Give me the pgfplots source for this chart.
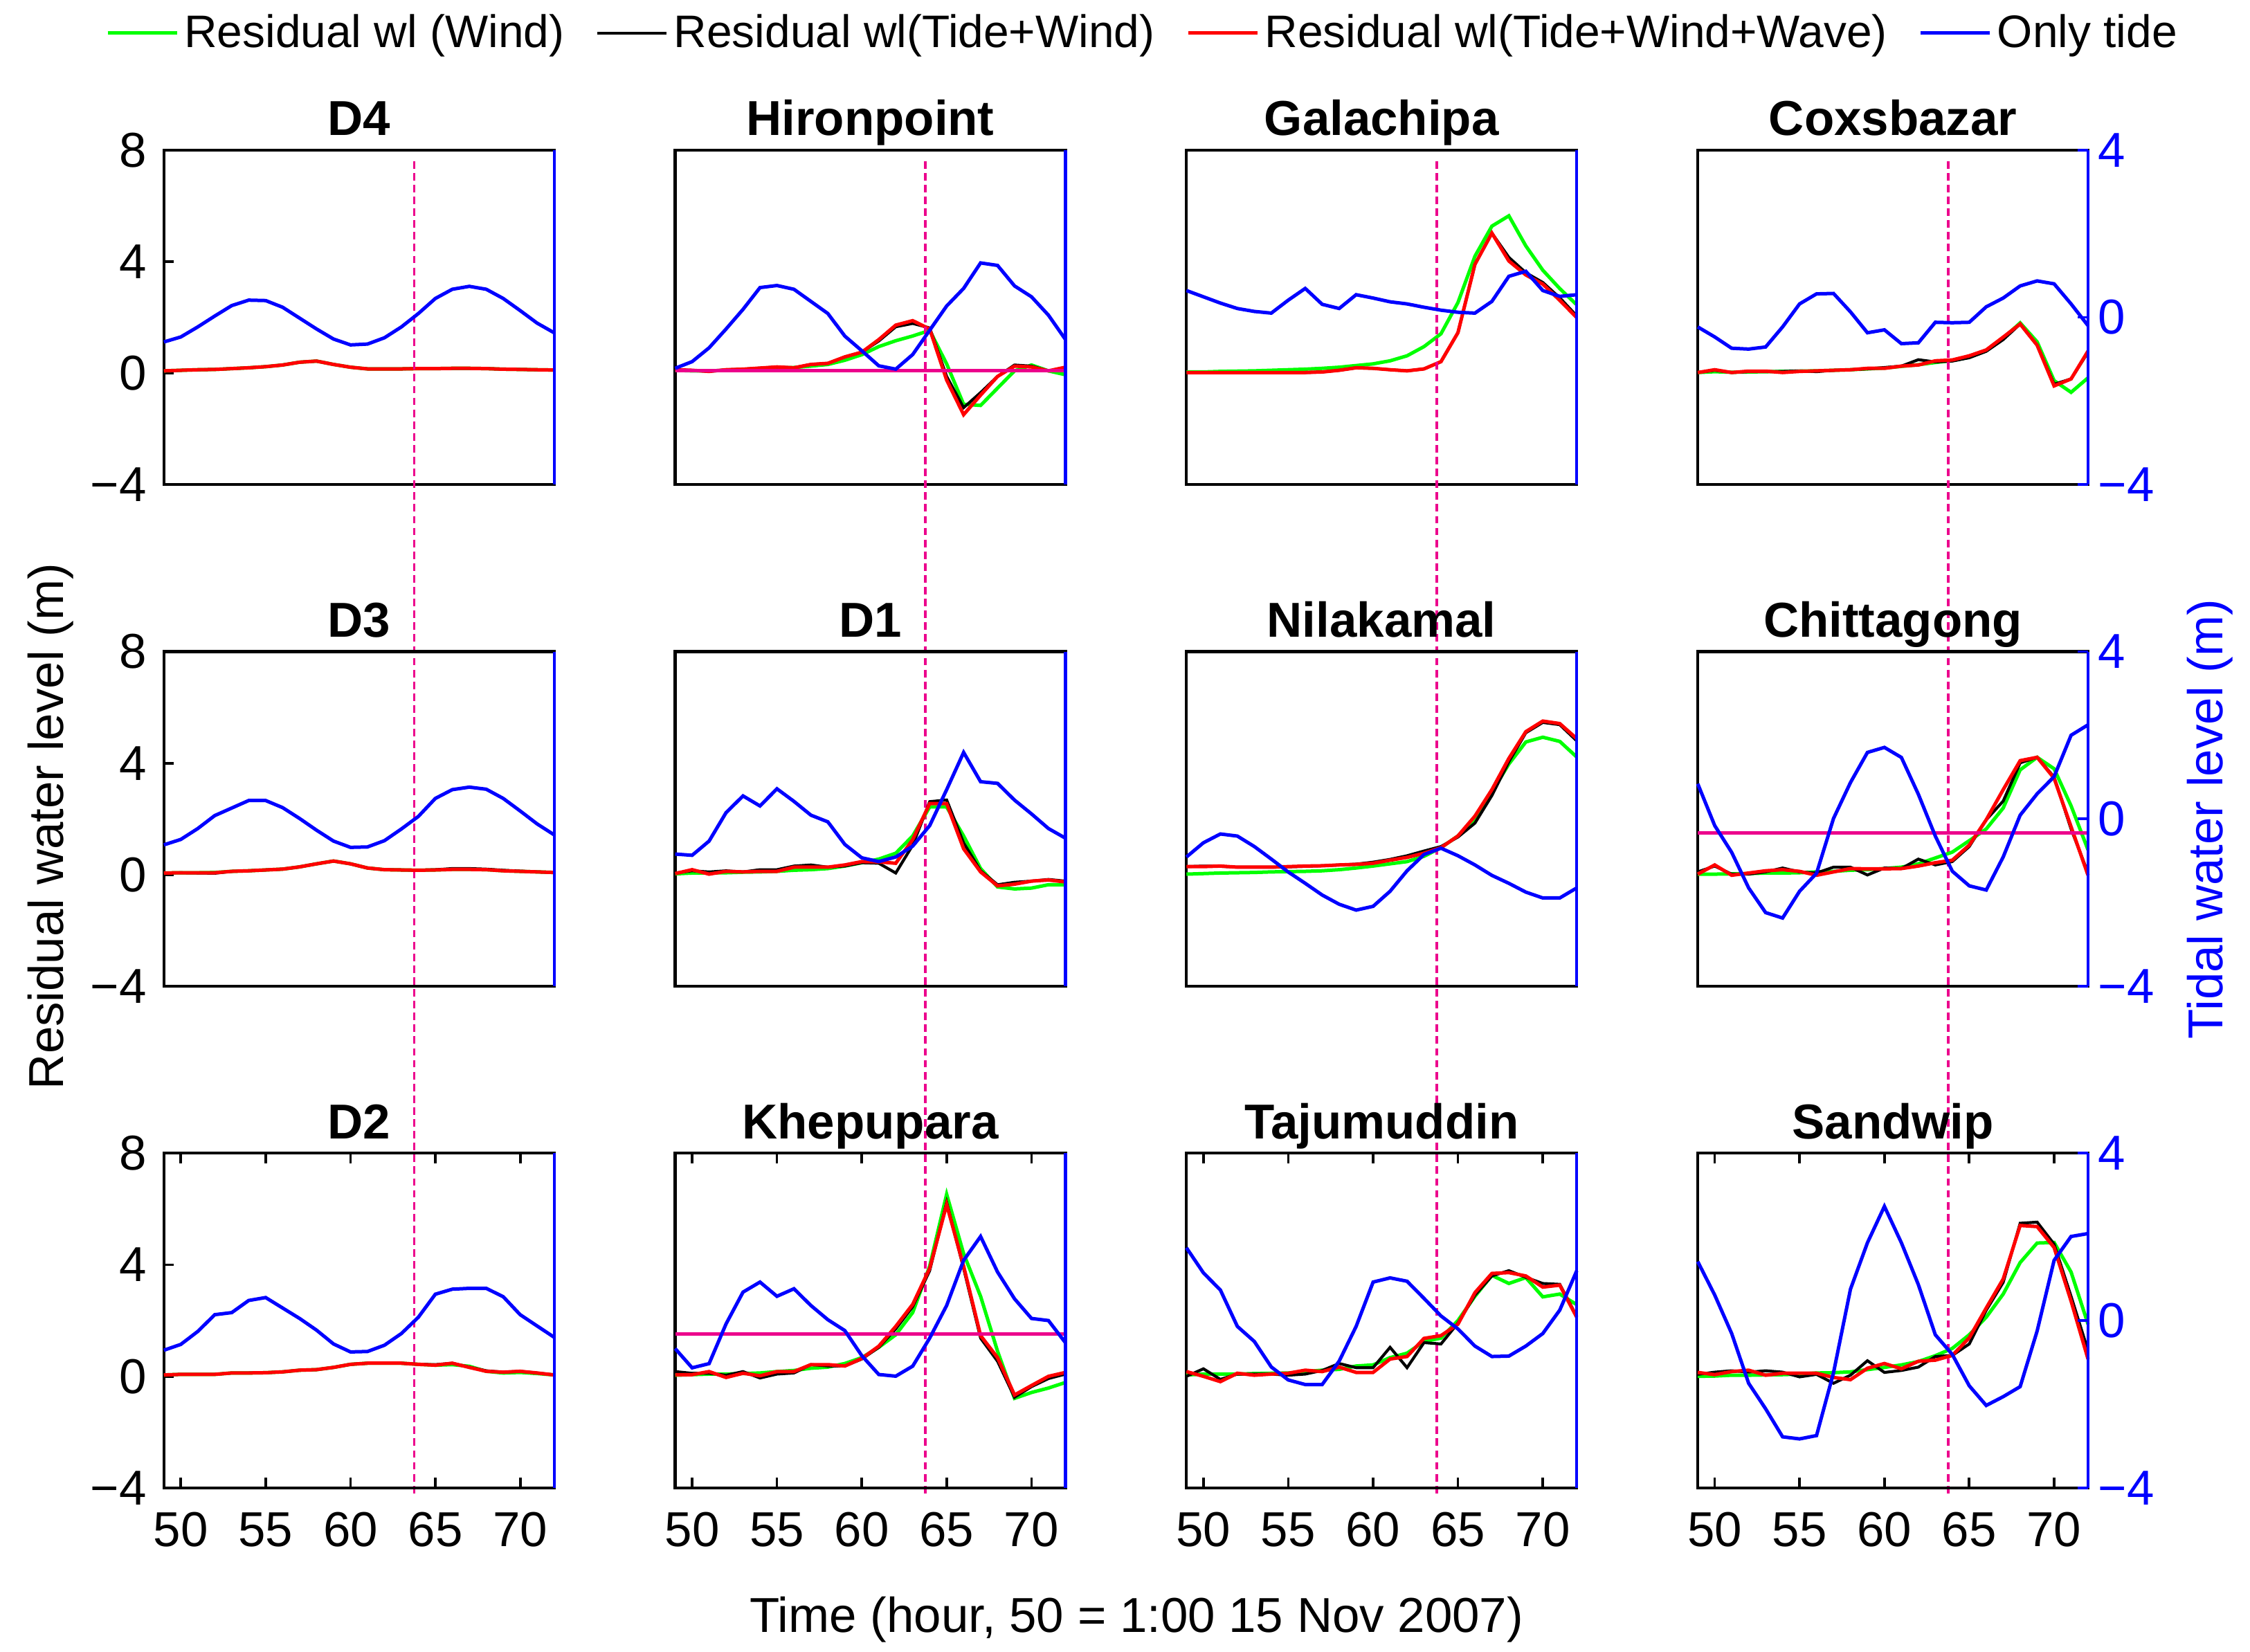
\documentclass[border=0pt]{standalone}
\usepackage{fontspec}
\setmainfont{Liberation Sans}
\usepackage{pgfplots}
\usepackage{pgfplotstable}
\pgfplotsset{compat=1.18}

\newcommand{\figfont}{\fontsize{17}{20}\selectfont}

% one table per station: hour, wind, tide+wind, tide+wind+wave, tide only
\pgfplotstableread{
h wind tw tww tide
49 0.08 0.08 0.08 -0.59
50 0.10 0.10 0.10 -0.47
51 0.12 0.12 0.12 -0.23
52 0.13 0.13 0.13 0.03
53 0.16 0.16 0.16 0.28
54 0.19 0.19 0.19 0.41
55 0.23 0.23 0.23 0.40
56 0.29 0.29 0.29 0.24
57 0.39 0.39 0.39 -0.02
58 0.43 0.43 0.43 -0.28
59 0.31 0.31 0.31 -0.52
60 0.21 0.21 0.21 -0.66
61 0.15 0.15 0.15 -0.64
62 0.15 0.15 0.15 -0.49
63 0.15 0.15 0.15 -0.23
64 0.16 0.16 0.16 0.09
65 0.16 0.16 0.16 0.45
66 0.17 0.17 0.17 0.67
67 0.17 0.17 0.17 0.74
68 0.16 0.16 0.16 0.67
69 0.14 0.14 0.14 0.45
70 0.13 0.13 0.13 0.16
71 0.12 0.12 0.12 -0.14
72 0.11 0.11 0.11 -0.37
}\dfour

\pgfplotstableread{
h wind tw tww tide
49 0.10 0.12 0.12 -1.22
50 0.08 0.10 0.10 -1.06
51 0.08 0.06 0.06 -0.73
52 0.10 0.12 0.12 -0.28
53 0.12 0.14 0.14 0.19
54 0.15 0.18 0.18 0.71
55 0.18 0.22 0.22 0.76
56 0.20 0.19 0.19 0.67
57 0.25 0.31 0.31 0.38
58 0.31 0.35 0.35 0.09
59 0.46 0.58 0.58 -0.45
60 0.66 0.75 0.75 -0.80
61 0.95 1.15 1.20 -1.16
62 1.16 1.66 1.72 -1.24
63 1.33 1.78 1.88 -0.89
64 1.53 1.62 1.58 -0.31
65 0.33 -0.12 -0.25 0.27
66 -1.12 -1.24 -1.49 0.69
67 -1.16 -0.70 -0.79 1.30
68 -0.54 -0.12 -0.12 1.24
69 0.08 0.29 0.25 0.75
70 0.29 0.25 0.22 0.49
71 0.08 0.08 0.08 0.05
72 -0.06 0.16 0.21 -0.53
}\hiron

\pgfplotstableread{
h wind tw tww tide
49 0.04 0.02 0.02 0.64
50 0.04 0.02 0.02 0.49
51 0.06 0.02 0.02 0.34
52 0.07 0.02 0.02 0.21
53 0.08 0.02 0.02 0.14
54 0.10 0.02 0.02 0.10
55 0.12 0.02 0.02 0.41
56 0.14 0.02 0.02 0.69
57 0.17 0.04 0.04 0.31
58 0.21 0.10 0.10 0.21
59 0.27 0.19 0.19 0.54
60 0.33 0.17 0.17 0.46
61 0.44 0.12 0.12 0.37
62 0.62 0.08 0.08 0.32
63 0.95 0.15 0.15 0.24
64 1.41 0.41 0.41 0.17
65 2.53 1.45 1.45 0.12
66 4.19 3.90 3.90 0.10
67 5.27 5.02 5.02 0.38
68 5.64 4.15 4.02 0.98
69 4.56 3.60 3.52 1.10
70 3.69 3.25 3.19 0.64
71 3.03 2.70 2.61 0.50
72 2.45 2.05 1.99 0.54
}\galac

\pgfplotstableread{
h wind tw tww tide
49 0.02 0.02 0.02 -0.23
50 0.05 0.10 0.12 -0.47
51 0.03 0.02 0.02 -0.74
52 0.04 0.05 0.07 -0.76
53 0.05 0.05 0.07 -0.71
54 0.06 0.06 0.02 -0.23
55 0.07 0.08 0.06 0.32
56 0.08 0.05 0.08 0.56
57 0.10 0.10 0.10 0.57
58 0.12 0.12 0.12 0.13
59 0.15 0.15 0.17 -0.37
60 0.18 0.20 0.17 -0.30
61 0.24 0.25 0.25 -0.63
62 0.30 0.48 0.29 -0.61
63 0.38 0.40 0.44 -0.12
64 0.45 0.43 0.47 -0.13
65 0.57 0.55 0.62 -0.12
66 0.80 0.78 0.83 0.25
67 1.25 1.20 1.29 0.46
68 1.80 1.76 1.76 0.75
69 1.12 1.00 1.00 0.87
70 -0.27 -0.40 -0.46 0.80
71 -0.69 -0.21 -0.21 0.32
72 -0.17 0.75 0.79 -0.20
}\coxs

\pgfplotstableread{
h wind tw tww tide
49 0.06 0.06 0.06 -0.62
50 0.07 0.07 0.07 -0.49
51 0.07 0.06 0.07 -0.23
52 0.08 0.05 0.07 0.08
53 0.12 0.12 0.12 0.26
54 0.14 0.14 0.14 0.44
55 0.17 0.17 0.17 0.44
56 0.20 0.20 0.20 0.27
57 0.28 0.28 0.28 0.01
58 0.39 0.39 0.39 -0.27
59 0.49 0.49 0.49 -0.53
60 0.39 0.39 0.39 -0.68
61 0.24 0.24 0.24 -0.67
62 0.18 0.18 0.18 -0.52
63 0.17 0.17 0.17 -0.24
64 0.16 0.16 0.16 0.06
65 0.17 0.18 0.17 0.49
66 0.19 0.22 0.19 0.70
67 0.19 0.22 0.19 0.76
68 0.18 0.20 0.18 0.71
69 0.14 0.16 0.14 0.49
70 0.12 0.13 0.12 0.19
71 0.10 0.10 0.10 -0.12
72 0.08 0.08 0.08 -0.38
}\dthree

\pgfplotstableread{
h wind tw tww tide
49 0.03 0.06 0.04 -0.84
50 0.06 0.14 0.18 -0.87
51 0.06 0.10 0.02 -0.53
52 0.07 0.14 0.12 0.15
53 0.09 0.10 0.10 0.55
54 0.10 0.18 0.12 0.31
55 0.12 0.18 0.12 0.72
56 0.16 0.31 0.27 0.42
57 0.18 0.35 0.27 0.09
58 0.22 0.27 0.27 -0.07
59 0.31 0.31 0.35 -0.61
60 0.43 0.43 0.47 -0.93
61 0.56 0.41 0.46 -1.02
62 0.77 0.06 0.41 -0.91
63 1.39 1.06 1.26 -0.65
64 2.43 2.62 2.55 -0.16
65 2.43 2.68 2.55 0.70
66 1.39 1.14 0.93 1.59
67 0.22 0.14 0.10 0.89
68 -0.44 -0.36 -0.40 0.85
69 -0.51 -0.27 -0.34 0.45
70 -0.48 -0.23 -0.23 0.12
71 -0.36 -0.17 -0.19 -0.23
72 -0.36 -0.23 -0.26 -0.46
}\done

\pgfplotstableread{
h wind tw tww tide
49 0.02 0.29 0.29 -0.91
50 0.04 0.31 0.29 -0.57
51 0.06 0.30 0.31 -0.36
52 0.07 0.27 0.27 -0.41
53 0.08 0.27 0.27 -0.66
54 0.10 0.27 0.27 -0.96
55 0.11 0.28 0.29 -1.27
56 0.12 0.30 0.31 -1.54
57 0.14 0.32 0.32 -1.82
58 0.18 0.35 0.35 -2.04
59 0.24 0.38 0.37 -2.18
60 0.31 0.45 0.41 -2.09
61 0.39 0.55 0.52 -1.73
62 0.47 0.68 0.62 -1.24
63 0.66 0.85 0.77 -0.85
64 0.97 1.01 0.97 -0.70
65 1.39 1.35 1.39 -0.88
66 1.97 1.85 2.10 -1.10
67 2.97 2.84 3.05 -1.35
68 3.97 4.05 4.17 -1.54
69 4.76 5.09 5.13 -1.75
70 4.93 5.46 5.51 -1.89
71 4.78 5.38 5.42 -1.89
72 4.22 4.80 4.88 -1.65
}\nila

\pgfplotstableread{
h wind tw tww tide
49 0.02 0.10 0.02 0.84
50 0.02 0.31 0.35 -0.16
51 0.03 0.02 -0.02 -0.80
52 0.04 0.02 0.06 -1.65
53 0.06 0.10 0.14 -2.24
54 0.06 0.24 0.18 -2.37
55 0.07 0.10 0.12 -1.73
56 0.10 0.06 -0.02 -1.30
57 0.12 0.27 0.10 0.01
58 0.16 0.27 0.22 0.87
59 0.18 -0.01 0.21 1.59
60 0.22 0.24 0.21 1.71
61 0.27 0.22 0.22 1.47
62 0.39 0.56 0.31 0.59
63 0.60 0.35 0.43 -0.41
64 0.81 0.47 0.52 -1.25
65 1.22 1.01 1.06 -1.60
66 1.64 1.97 1.97 -1.70
67 2.39 2.64 3.05 -0.91
68 3.76 4.01 4.09 0.09
69 4.21 4.21 4.21 0.60
70 3.80 3.50 3.46 1.01
71 2.47 1.64 1.72 2.00
72 0.89 0.06 -0.02 2.25
}\chitt

\pgfplotstableread{
h wind tw tww tide
49 0.05 0.05 0.05 -0.71
50 0.07 0.07 0.07 -0.57
51 0.07 0.07 0.07 -0.26
52 0.07 0.07 0.07 0.14
53 0.12 0.12 0.12 0.19
54 0.12 0.12 0.12 0.48
55 0.13 0.13 0.13 0.55
56 0.16 0.16 0.16 0.30
57 0.22 0.22 0.22 0.05
58 0.24 0.24 0.24 -0.23
59 0.32 0.32 0.32 -0.56
60 0.43 0.43 0.43 -0.75
61 0.47 0.47 0.47 -0.74
62 0.47 0.47 0.47 -0.59
63 0.47 0.47 0.47 -0.31
64 0.43 0.43 0.43 0.08
65 0.40 0.42 0.40 0.63
66 0.42 0.47 0.47 0.75
67 0.36 0.33 0.32 0.77
68 0.18 0.20 0.18 0.77
69 0.12 0.15 0.15 0.57
70 0.14 0.18 0.18 0.14
71 0.10 0.12 0.12 -0.13
72 0.05 0.05 0.05 -0.40
}\dtwo

\pgfplotstableread{
h wind tw tww tide
49 0.04 0.17 0.06 -0.67
50 0.06 0.11 0.06 -1.13
51 0.08 0.11 0.17 -1.03
52 0.08 0.04 -0.04 -0.08
53 0.10 0.17 0.11 0.68
54 0.12 -0.06 0.02 0.92
55 0.17 0.08 0.17 0.58
56 0.21 0.12 0.17 0.76
57 0.29 0.42 0.42 0.36
58 0.33 0.37 0.42 0.02
59 0.46 0.37 0.37 -0.24
60 0.67 0.62 0.64 -0.84
61 1.04 1.04 1.08 -1.29
62 1.49 1.70 1.79 -1.33
63 2.29 2.50 2.58 -1.09
64 3.95 3.79 3.87 -0.42
65 6.53 6.24 6.16 0.36
66 4.40 3.87 3.95 1.44
67 2.87 1.37 1.46 2.01
68 0.90 0.54 0.67 1.16
69 -0.79 -0.75 -0.67 0.52
70 -0.58 -0.37 -0.33 0.05
71 -0.42 -0.08 0.00 0.00
72 -0.22 0.08 0.14 -0.53
}\khep

\pgfplotstableread{
h wind tw tww tide
49 0.05 0.00 0.17 1.74
50 0.08 0.27 0.00 1.14
51 0.08 -0.11 -0.19 0.73
52 0.08 0.08 0.11 -0.14
53 0.10 0.08 0.04 -0.50
54 0.11 0.08 0.08 -1.11
55 0.12 0.04 0.11 -1.42
56 0.17 0.08 0.22 -1.53
57 0.22 0.21 0.17 -1.53
58 0.25 0.46 0.33 -0.97
59 0.37 0.31 0.14 -0.14
60 0.41 0.31 0.14 0.92
61 0.67 1.04 0.62 1.02
62 0.83 0.31 0.71 0.94
63 1.25 1.21 1.36 0.53
64 1.37 1.16 1.46 0.11
65 2.00 1.91 1.87 -0.20
66 2.87 2.91 3.00 -0.61
67 3.62 3.60 3.69 -0.86
68 3.33 3.79 3.72 -0.85
69 3.54 3.55 3.60 -0.61
70 2.85 3.33 3.20 -0.31
71 2.95 3.30 3.27 0.25
72 2.57 2.15 2.12 1.19
}\taju

\pgfplotstableread{
h wind tw tww tide
49 0.00 0.07 0.14 1.41
50 0.01 0.15 0.06 0.61
51 0.04 0.20 0.17 -0.31
52 0.04 0.15 0.22 -1.50
53 0.05 0.20 0.04 -2.11
54 0.06 0.15 0.11 -2.78
55 0.08 -0.02 0.11 -2.83
56 0.12 0.07 0.11 -2.75
57 0.13 -0.25 -0.04 -1.25
58 0.16 0.04 -0.12 0.75
59 0.24 0.56 0.29 1.86
60 0.32 0.14 0.46 2.73
61 0.41 0.21 0.27 1.86
62 0.53 0.33 0.54 0.86
63 0.74 0.71 0.58 -0.34
64 1.00 0.75 0.75 -0.81
65 1.49 1.16 1.38 -1.56
66 2.12 2.37 2.45 -2.03
67 2.95 3.37 3.49 -1.82
68 4.08 5.49 5.41 -1.58
69 4.78 5.53 5.37 -0.25
70 4.80 4.74 4.62 1.44
71 3.74 2.87 2.70 2.01
72 1.87 0.92 0.62 2.08
}\sand

\pgfplotsset{
  base/.style={scale only axis, width=135.3pt, height=116pt,
    xmin=49, xmax=72, anchor=north west, font=\figfont,
    major tick length=3.5pt, tick align=inside, clip=false,
    every tick/.style={black, line width=0.9pt},
    /pgf/number format/assume math mode=true},
  leftax/.style={base, ymin=-4, ymax=8, xtick=\empty, ytick=\empty,
    axis line style={black, line width=1pt},
    title style={font=\figfont\bfseries, at={(0.5,1)}, anchor=base, yshift=-1pt}},
  rightax/.style={base, ymin=-4, ymax=4, axis x line=none, axis y line*=right,
    y axis line style={blue, line width=1pt}, xtick=\empty, ytick=\empty},
  lcol/.style={ytick={-4,0,4,8}, yticklabels={−4,0,4,8}, ytick pos=left,
    yticklabel style={xshift=-2.5pt}},
  rcol/.style={ytick={-4,0,4}, yticklabels={−4,0,4},
    yticklabel style={text=blue}, every tick/.style={blue, line width=0.9pt}},
  brow/.style={xtick={50,55,60,65,70}, xticklabels={50,55,60,65,70},
    xtick pos=both, xticklabel pos=lower, xticklabel style={yshift=-5pt}},
  wind/.style={color={rgb,255:red,0;green,255;blue,0}, line width=1.2pt},
  tw/.style={black, line width=1pt},
  tww/.style={red, line width=1.2pt},
  tide/.style={blue, line width=1.2pt},
  hline/.style={magenta, line width=1.2pt},
}
\tikzset{vline/.style={magenta, line width=0.9pt, dash pattern=on 2.6pt off 1.5pt}}

% #1 position, #2 title, #3 table, #4 left options, #5 right options, #6 extra
\newcommand{\panel}[6]{%
  \begin{axis}[leftax, at={(#1)}, title={#2}, #4]
    \addplot[wind] table[x=h, y=wind] {#3};
    \addplot[tw] table[x=h, y=tw] {#3};
    \addplot[tww] table[x=h, y=tww] {#3};
    #6
  \end{axis}
  \begin{axis}[rightax, at={(#1)}, #5]
    \addplot[tide] table[x=h, y=tide] {#3};
  \end{axis}
}

\begin{document}
\begin{tikzpicture}[font=\figfont]
\path[use as bounding box] (0,0) rectangle (780pt,-572.7pt);

% row 1 (the dashed line runs down through all three rows)
\panel{56.8pt,-52pt}{D4}{\dfour}{lcol}{}{\draw[vline] (axis cs:63.75,7.6) -- (axis cs:63.75,-40.3);}
\panel{234.05pt,-52pt}{Hironpoint}{\hiron}{}{}{\addplot[hline] coordinates {(49,0.08) (72,0.08)};
  \draw[vline] (axis cs:63.75,7.6) -- (axis cs:63.75,-40.3);}
\panel{411.3pt,-52pt}{Galachipa}{\galac}{}{}{\draw[vline] (axis cs:63.75,7.6) -- (axis cs:63.75,-40.3);}
\panel{588.55pt,-52pt}{Coxsbazar}{\coxs}{}{rcol}{\draw[vline] (axis cs:63.75,7.6) -- (axis cs:63.75,-40.3);}

% row 2
\panel{56.8pt,-225.9pt}{D3}{\dthree}{lcol}{}{}
\panel{234.05pt,-225.9pt}{D1}{\done}{}{}{}
\panel{411.3pt,-225.9pt}{Nilakamal}{\nila}{}{}{}
\panel{588.55pt,-225.9pt}{Chittagong}{\chitt}{}{rcol}{\addplot[hline] coordinates {(49,1.5) (72,1.5)};}

% row 3
\panel{56.8pt,-399.8pt}{D2}{\dtwo}{lcol,brow}{}{}
\panel{234.05pt,-399.8pt}{Khepupara}{\khep}{brow}{}{\addplot[hline] coordinates {(49,1.52) (72,1.52)};}
\panel{411.3pt,-399.8pt}{Tajumuddin}{\taju}{brow}{}{}
\panel{588.55pt,-399.8pt}{Sandwip}{\sand}{brow}{rcol}{}

% legend
\begin{axis}[hide axis, scale only axis, width=10pt, height=10pt,
  at={(396.75pt,-11.5pt)}, anchor=center, xmin=0, xmax=1, ymin=0, ymax=1,
  legend columns=4,
  legend style={at={(0.5,0.5)}, anchor=center, draw=none, fill=none,
    font=\fontsize{15.8}{19}\selectfont,
    /tikz/every even column/.append style={column sep=9pt}},
  legend image code/.code={\draw[#1] (0pt,0pt) -- (24pt,0pt);}]
\addlegendimage{wind}
\addlegendentry{Residual wl (Wind)}
\addlegendimage{tw}
\addlegendentry{Residual wl(Tide+Wind)}
\addlegendimage{tww}
\addlegendentry{Residual wl(Tide+Wind+Wave)}
\addlegendimage{tide}
\addlegendentry{Only tide}
\end{axis}

\node[rotate=90] at (17.5pt,-286.5pt) {Residual water level (m)};
\node[rotate=90, text=blue] at (766pt,-284pt) {Tidal water level (m)};
\node at (394pt,-561.5pt) {Time (hour, 50 = 1:00 15 Nov 2007)};
\end{tikzpicture}
\end{document}
